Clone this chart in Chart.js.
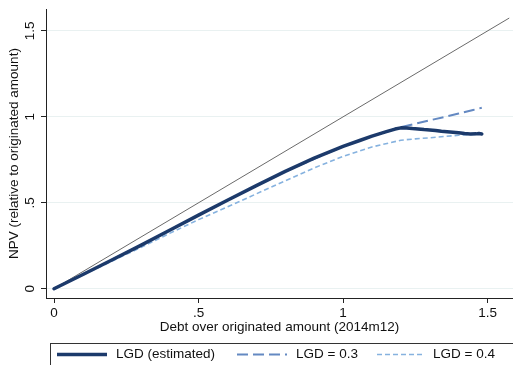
<!DOCTYPE html>
<html>
<head>
<meta charset="utf-8">
<script src="https://cdn.jsdelivr.net/npm/chart.js@4/dist/chart.umd.min.js"></script>
<style>
  html, body { margin: 0; padding: 0; background: #fff; }
  #wrap { width: 513px; height: 365px; position: relative; }
</style>
</head>
<body>
<div id="wrap"><canvas id="c" width="513" height="365"></canvas></div>
<script>
// ---- Data ----
const estX = [0, 0.1, 0.2, 0.3, 0.4, 0.5, 0.6, 0.7, 0.8, 0.9, 1.0, 1.06, 1.1, 1.15, 1.18, 1.2, 1.22, 1.24, 1.26, 1.28, 1.3, 1.32, 1.34, 1.36, 1.38, 1.4, 1.42, 1.44, 1.46, 1.47, 1.48];
const estY = [0, 0.083, 0.167, 0.252, 0.34, 0.428, 0.515, 0.6, 0.683, 0.76, 0.828, 0.864, 0.888, 0.914, 0.929, 0.936, 0.935, 0.932, 0.93, 0.926, 0.924, 0.921, 0.916, 0.914, 0.911, 0.908, 0.903, 0.9, 0.901, 0.903, 0.9];

const lgd3X = [0, 0.2, 0.4, 0.6, 0.8, 1.0, 1.1, 1.18, 1.2, 1.25, 1.3, 1.35, 1.4, 1.45, 1.48];
const lgd3Y = [0, 0.167, 0.34, 0.515, 0.683, 0.828, 0.888, 0.929, 0.94, 0.96, 0.98, 0.999, 1.019, 1.04, 1.053];

const lgd4X = [0, 0.1, 0.2, 0.3, 0.4, 0.5, 0.6, 0.7, 0.8, 0.9, 1.0, 1.1, 1.2, 1.25, 1.3, 1.35, 1.4, 1.45, 1.48];
const lgd4Y = [0, 0.08, 0.16, 0.24, 0.322, 0.402, 0.476, 0.552, 0.628, 0.703, 0.77, 0.825, 0.864, 0.872, 0.878, 0.886, 0.893, 0.897, 0.9];

const diagX = [0, 1.575];
const diagY = [0, 1.575];

const yTicks = [0, 0.5, 1, 1.5];
const xTicks = [0, 0.5, 1, 1.5];
const tickLabels = {0: '0', 0.5: '.5', 1: '1', 1.5: '1.5'};

const seriesNames = ['LGD (estimated)', 'LGD = 0.3', 'LGD = 0.4'];
const xTitle = 'Debt over originated amount (2014m12)';
const yTitle = 'NPV (relative to originated amount)';

function pts(xs, ys) { return xs.map((x, i) => ({x: x, y: ys[i]})); }

const FONT = {family: '"Liberation Sans", Arial, sans-serif', size: 13.5};

const legendPlugin = {
  id: 'boxLegend',
  afterDraw(chart) {
    const ctx = chart.ctx;
    ctx.save();
    ctx.strokeStyle = '#333';
    ctx.lineWidth = 1;
    ctx.setLineDash([]);
    ctx.strokeRect(50.5, 343.5, 480, 30);
    const items = [
      {ds: 0, x1: 57, x2: 107, tx: 116},
      {ds: 1, x1: 237, x2: 287, tx: 296},
      {ds: 2, x1: 377, x2: 425, tx: 433}
    ];
    const yc = 354.5;
    items.forEach(it => {
      const d = chart.data.datasets[it.ds];
      ctx.beginPath();
      ctx.strokeStyle = d.borderColor;
      ctx.lineWidth = d.borderWidth;
      ctx.setLineDash(d.borderDash || []);
      ctx.moveTo(it.x1, yc);
      ctx.lineTo(it.x2, yc);
      ctx.stroke();
      ctx.setLineDash([]);
      ctx.fillStyle = '#111';
      ctx.font = FONT.size + 'px ' + FONT.family;
      ctx.textBaseline = 'middle';
      ctx.textAlign = 'left';
      ctx.fillText(d.label, it.tx, yc);
    });
    ctx.restore();
  }
};

new Chart(document.getElementById('c'), {
  type: 'scatter',
  data: {
    datasets: [
      {label: seriesNames[0], data: pts(estX, estY), showLine: true, borderColor: '#1c3a6b', borderWidth: 3.5, pointRadius: 0, borderJoinStyle: 'round', borderCapStyle: 'round'},
      {label: seriesNames[1], data: pts(lgd3X, lgd3Y), showLine: true, borderColor: '#6489c2', borderWidth: 2, borderDash: [11, 5], pointRadius: 0},
      {label: seriesNames[2], data: pts(lgd4X, lgd4Y), showLine: true, borderColor: '#86b2df', borderWidth: 1.6, borderDash: [5, 3], pointRadius: 0},
      {label: 'diag', data: pts(diagX, diagY), showLine: true, borderColor: '#6a6a6a', borderWidth: 1, pointRadius: 0}
    ]
  },
  options: {
    responsive: false,
    animation: false,
    devicePixelRatio: 1,
    layout: {padding: {top: 7, right: 0, left: 0, bottom: 0}},
    plugins: {legend: {display: false}, tooltip: {enabled: false}},
    scales: {
      x: {
        type: 'linear',
        min: -0.0277, max: 1.588,
        afterBuildTicks: s => { s.ticks = xTicks.map(v => ({value: v})); },
        afterFit: s => { s.height = 67; },
        ticks: {font: FONT, color: '#111', padding: 2, maxRotation: 0, callback: v => tickLabels[v]},
        grid: {drawOnChartArea: false, drawTicks: true, tickLength: 5, tickColor: '#222'},
        border: {display: true, color: '#222', width: 1},
        title: {display: true, text: xTitle, font: FONT, color: '#111', padding: {top: 0, bottom: 30}}
      },
      y: {
        type: 'linear',
        min: -0.054, max: 1.627,
        afterBuildTicks: s => { s.ticks = yTicks.map(v => ({value: v})); },
        afterFit: s => { s.width = 46; },
        ticks: {font: FONT, color: '#111', padding: 1, minRotation: 90, maxRotation: 90, crossAlign: 'center', callback: v => tickLabels[v]},
        grid: {drawOnChartArea: true, color: '#e9f1f1', lineWidth: 1, drawTicks: true, tickLength: 5, tickColor: '#222'},
        border: {display: true, color: '#222', width: 1},
        title: {display: true, text: yTitle, font: FONT, color: '#111', padding: {top: 6, bottom: 0}}
      }
    }
  },
  plugins: [legendPlugin]
});
</script>
</body>
</html>
